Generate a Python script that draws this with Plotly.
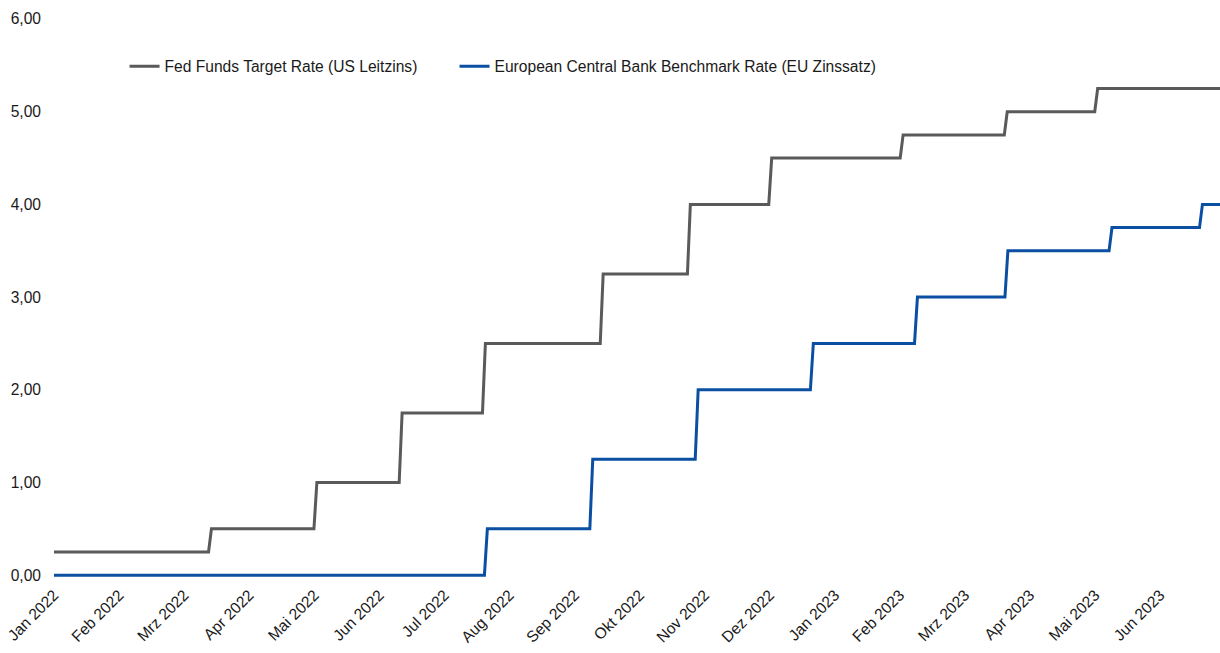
import plotly.graph_objects as go

# Month labels along the x axis (one tick per month, evenly spaced)
month_labels = ["Jan 2022", "Feb 2022", "Mrz 2022", "Apr 2022", "Mai 2022", "Jun 2022",
                "Jul 2022", "Aug 2022", "Sep 2022", "Okt 2022", "Nov 2022", "Dez 2022",
                "Jan 2023", "Feb 2023", "Mrz 2023", "Apr 2023", "Mai 2023", "Jun 2023"]

# Position of the last observation (in months after Jan 2022)
series_end = 17.92

# Fed: starting level, then position (months after Jan 2022) and new level of each change
fed_start = 0.25
fed_change_pos = [2.42, 4.04, 5.35, 6.63, 8.44, 9.78, 11.03, 13.05, 14.65, 16.04]
fed_levels = [0.50, 1.00, 1.75, 2.50, 3.25, 4.00, 4.50, 4.75, 5.00, 5.25]

# ECB: starting level, then position (months after Jan 2022) and new level of each change
ecb_start = 0.0
ecb_change_pos = [6.66, 8.28, 9.90, 11.67, 13.27, 14.66, 16.26, 17.65]
ecb_levels = [0.50, 1.25, 2.00, 2.50, 3.00, 3.50, 3.75, 4.00]

# One observation step (daily series) in months
obs_step = 0.045


def step_series(start, positions, levels, end):
    xs, ys = [0.0], [start]
    level = start
    for p, new in zip(positions, levels):
        xs += [p - obs_step, p]
        ys += [level, new]
        level = new
    xs.append(end)
    ys.append(level)
    return xs, ys


fx, fy = step_series(fed_start, fed_change_pos, fed_levels, series_end)
ex, ey = step_series(ecb_start, ecb_change_pos, ecb_levels, series_end)

fig = go.Figure()
fig.add_trace(go.Scatter(x=fx, y=fy, mode="lines",
                         name="Fed Funds Target Rate (US Leitzins)",
                         line=dict(color="#5a5a5a", width=3), legend="legend"))
fig.add_trace(go.Scatter(x=ex, y=ey, mode="lines",
                         name="European Central Bank Benchmark Rate (EU Zinssatz)",
                         line=dict(color="#0b4fa3", width=3), legend="legend2"))

font_family = "Liberation Sans, Arial, sans-serif"
fs = 15.6
legend_common = dict(orientation="h", y=0.915, yanchor="middle", xanchor="left",
                     font=dict(size=fs, color="#1a1a1a"), bgcolor="rgba(0,0,0,0)",
                     itemwidth=30)

fig.update_layout(
    width=1220, height=653,
    margin=dict(l=54, r=0, t=19, b=75),
    paper_bgcolor="white", plot_bgcolor="white",
    separators=",.",
    font=dict(family=font_family, size=fs, color="#1a1a1a"),
    showlegend=True,
    legend=dict(x=0.0605, **legend_common),
    legend2=dict(x=0.3435, **legend_common),
    xaxis=dict(range=[0, series_end], tickmode="array",
               tickvals=list(range(len(month_labels))), ticktext=month_labels,
               tickangle=-45, showgrid=False, zeroline=False, showline=False,
               ticks="", ticklabelstandoff=4, tickfont=dict(size=fs)),
    yaxis=dict(range=[-0.03, 6.0], tickmode="array",
               tickvals=[0, 1, 2, 3, 4, 5, 6], tickformat=".2f",
               showgrid=False, zeroline=False, showline=False,
               ticks="", ticklabelstandoff=12, tickfont=dict(size=fs)),
)

fig.write_html("out.html")
